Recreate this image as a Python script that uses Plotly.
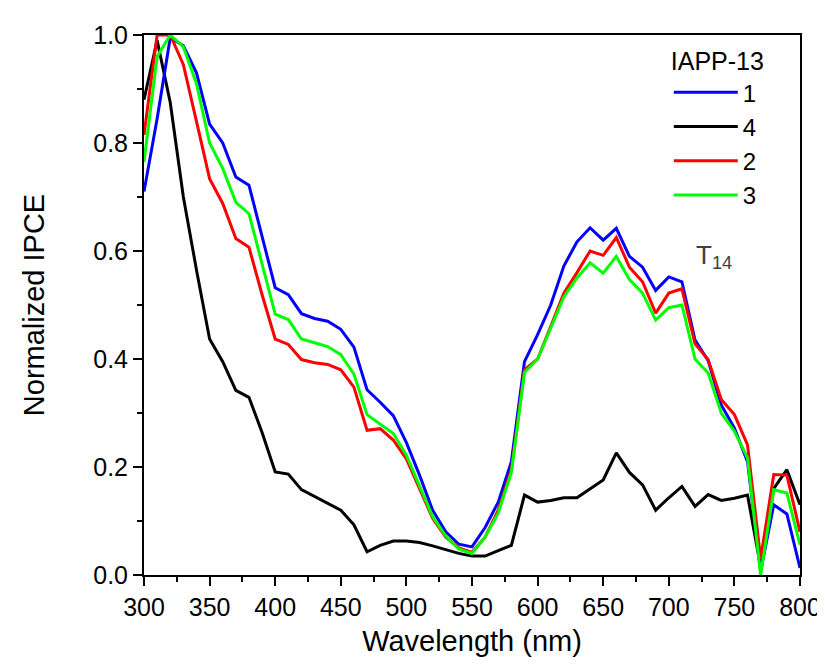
import plotly.graph_objects as go

wavelength = list(range(300, 801, 10))

ipce_1 = [0.71, 0.845, 0.995, 0.98, 0.93, 0.835, 0.80, 0.737, 0.722, 0.627,
          0.532, 0.519, 0.484, 0.475, 0.47, 0.455, 0.422, 0.343, 0.32, 0.295,
          0.245, 0.185, 0.12, 0.08, 0.057, 0.052, 0.088, 0.135, 0.21, 0.395,
          0.445, 0.50, 0.572, 0.617, 0.643, 0.62, 0.642, 0.59, 0.57, 0.527,
          0.552, 0.543, 0.435, 0.397, 0.315, 0.272, 0.21, 0.007, 0.13, 0.113,
          0.013]

ipce_4 = [0.88, 0.99, 0.875, 0.70, 0.565, 0.437, 0.395, 0.342, 0.329, 0.264,
          0.191, 0.187, 0.158, 0.145, 0.133, 0.12, 0.093, 0.043, 0.055, 0.063,
          0.063, 0.06, 0.054, 0.047, 0.04, 0.035, 0.035, 0.045, 0.055, 0.148,
          0.135, 0.138, 0.143, 0.143, 0.16, 0.176, 0.226, 0.19, 0.167, 0.12,
          0.143, 0.164, 0.127, 0.149, 0.138, 0.142, 0.148, 0.015, 0.16, 0.195,
          0.13]

ipce_2 = [0.815, 1.0, 1.0, 0.945, 0.84, 0.734, 0.688, 0.623, 0.607, 0.519,
          0.437, 0.427, 0.399, 0.393, 0.39, 0.38, 0.348, 0.268, 0.271, 0.25,
          0.215, 0.16, 0.105, 0.07, 0.05, 0.042, 0.07, 0.12, 0.195, 0.38,
          0.40, 0.46, 0.522, 0.56, 0.60, 0.592, 0.625, 0.57, 0.543, 0.485,
          0.522, 0.53, 0.428, 0.399, 0.325, 0.297, 0.241, 0.03, 0.186, 0.185,
          0.08]

ipce_3 = [0.765, 0.96, 1.0, 0.978, 0.91, 0.80, 0.753, 0.69, 0.669, 0.577,
          0.483, 0.473, 0.437, 0.43, 0.423, 0.408, 0.372, 0.297, 0.28, 0.262,
          0.222, 0.165, 0.108, 0.072, 0.048, 0.04, 0.07, 0.115, 0.19, 0.375,
          0.40, 0.457, 0.515, 0.55, 0.578, 0.559, 0.59, 0.547, 0.522, 0.472,
          0.495, 0.50, 0.40, 0.374, 0.30, 0.266, 0.217, 0.0, 0.158, 0.152,
          0.056]

font = "Liberation Sans, Arial, sans-serif"

fig = go.Figure()
# black drawn first so the coloured curves sit on top, legend order kept by rank
fig.add_trace(go.Scatter(x=wavelength, y=ipce_4, mode="lines", name="4",
                         line=dict(color="#000000", width=3), legendrank=2))
fig.add_trace(go.Scatter(x=wavelength, y=ipce_1, mode="lines", name="1",
                         line=dict(color="#0000FF", width=3), legendrank=1))
fig.add_trace(go.Scatter(x=wavelength, y=ipce_2, mode="lines", name="2",
                         line=dict(color="#FF0000", width=3), legendrank=3))
fig.add_trace(go.Scatter(x=wavelength, y=ipce_3, mode="lines", name="3",
                         line=dict(color="#00FF00", width=3), legendrank=4))

fig.add_annotation(x=0.90, y=0.59, xref="paper", yref="paper",
                   text="T<sub>14</sub>", showarrow=False,
                   font=dict(family=font, size=26, color="#404040"))

fig.update_xaxes(range=[300, 800], dtick=50, tick0=300,
                 ticks="outside", ticklen=9, tickwidth=2, tickcolor="black",
                 minor=dict(dtick=25, ticks="outside", ticklen=5, tickwidth=2, tickcolor="black"),
                 showline=True, linewidth=2, linecolor="black", mirror=True,
                 showgrid=False, zeroline=False,
                 tickfont=dict(family=font, size=25, color="black"),
                 title=dict(text="Wavelength (nm)", standoff=11,
                            font=dict(family=font, size=29, color="black")))
fig.update_yaxes(range=[0, 1.0], dtick=0.2, tick0=0, tickformat=".1f",
                 ticks="outside", ticklen=9, tickwidth=2, tickcolor="black",
                 minor=dict(dtick=0.1, ticks="outside", ticklen=5, tickwidth=2, tickcolor="black"),
                 showline=True, linewidth=2, linecolor="black", mirror=True,
                 showgrid=False, zeroline=False,
                 tickfont=dict(family=font, size=25, color="black"),
                 title=dict(text="Normalized IPCE", standoff=40,
                            font=dict(family=font, size=29, color="black")))

fig.update_layout(
    width=825, height=664,
    margin=dict(l=136, r=28, t=27, b=97),
    paper_bgcolor="white", plot_bgcolor="white",
    showlegend=True,
    legend=dict(x=0.80, y=0.995, xanchor="left", yanchor="top",
                bgcolor="rgba(0,0,0,0)", traceorder="normal",
                font=dict(family=font, size=24, color="black"),
                title=dict(text="IAPP-13", font=dict(family=font, size=25, color="black")),
                itemwidth=64),
)

fig.write_html("out.html")
